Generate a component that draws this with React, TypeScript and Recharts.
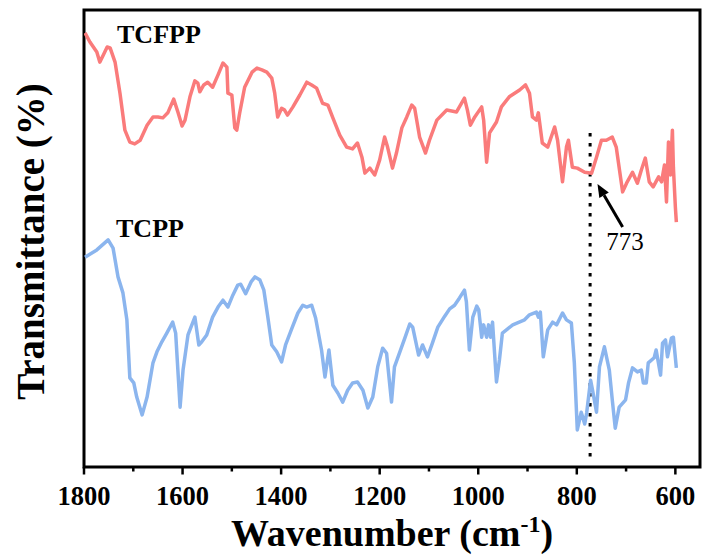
import React from 'react';
import { LineChart, Line, XAxis, YAxis, ReferenceArea, ReferenceLine, ReferenceDot, Label } from 'recharts';

// TCFPP spectrum (wavenumber, cm^-1) and transmittance (arbitrary %, offset)
const tcfppWavenumber = [1798,1788,1774,1768,1761,1753,1747,1737,1727,1717,1707,1697,1686,1672,1660,1650,1640,1630,1618,1609,1601,1595,1585,1575,1569,1565,1557,1549,1539,1528,1518,1510,1508,1500,1494,1490,1484,1474,1459,1449,1439,1429,1419,1413,1407,1399,1393,1387,1376,1362,1348,1338,1328,1316,1305,1295,1281,1267,1255,1245,1236,1230,1220,1210,1200,1190,1184,1174,1166,1155,1145,1135,1129,1119,1107,1099,1084,1064,1044,1028,1022,1016,1007,993,989,983,977,963,953,937,916,904,896,890,882,878,870,859,845,839,829,821,817,809,799,784,770,760,750,740,728,720,707,699,687,677,669,661,653,645,634,628,622,618,614,610,606,604,600,598];
const tcfppT = [95.0,93.0,90.8,88.6,90.1,91.9,91.7,88.6,81.8,73.7,71.1,70.7,71.5,74.8,76.6,76.6,76.4,77.5,80.5,77.5,74.6,75.9,81.0,84.5,84.0,82.1,83.6,84.2,83.1,85.8,88.4,87.5,81.8,81.4,74.2,73.7,77.5,83.1,86.4,87.3,86.9,86.4,85.1,81.8,76.6,78.5,78.1,77.0,78.8,81.4,84.2,83.6,82.9,79.6,79.2,76.4,72.6,70.0,69.6,70.9,67.8,64.3,65.4,63.9,67.2,72.2,70.0,65.4,68.7,74.2,76.6,79.2,78.5,72.2,68.7,71.5,75.9,78.1,77.7,80.7,78.1,74.8,76.6,78.8,75.9,66.7,73.1,75.5,78.8,81.0,82.5,83.6,81.8,76.6,75.9,77.5,70.9,70.0,74.4,71.5,62.4,70.0,71.5,65.6,65.4,64.5,64.3,67.8,71.5,71.5,72.2,70.0,60.2,62.1,64.5,62.1,65.0,67.6,62.4,61.3,63.5,62.4,66.1,58.0,71.1,63.9,73.7,65.6,56.9,53.6];

// TCPP spectrum
const tcppWavenumber = [1798,1774,1751,1741,1731,1721,1713,1707,1699,1693,1682,1672,1660,1652,1642,1632,1620,1614,1605,1599,1589,1575,1567,1561,1551,1539,1528,1518,1508,1498,1488,1482,1472,1461,1453,1443,1435,1427,1419,1409,1399,1391,1378,1366,1356,1348,1338,1330,1318,1311,1303,1295,1285,1275,1265,1255,1245,1234,1224,1214,1204,1194,1186,1176,1170,1159,1149,1139,1133,1121,1113,1103,1093,1082,1068,1058,1048,1038,1028,1024,1018,1011,1003,999,993,989,983,979,975,971,963,957,951,930,906,896,882,878,874,868,859,849,841,829,821,811,805,799,791,784,780,772,768,760,754,744,734,728,722,714,701,695,687,677,669,665,659,655,643,639,630,626,620,616,608,604,598];
const tcppT = [45.9,47.5,49.7,47.9,41.6,38.1,32.2,19.5,18.4,15.3,11.4,15.3,22.8,25.2,27.4,29.3,31.7,29.3,13.1,21.2,28.9,32.8,26.7,27.4,28.9,32.8,35.0,36.5,35.0,37.6,39.8,40.0,37.9,40.5,41.6,40.9,38.7,32.8,26.7,25.2,23.0,26.7,30.4,33.7,35.4,35.0,35.4,32.6,25.6,19.7,25.6,17.9,16.2,14.2,16.8,18.4,18.6,16.8,12.9,15.3,21.9,26.0,24.9,14.2,21.9,25.2,28.2,31.3,30.6,24.5,26.7,24.1,27.1,30.6,33.0,34.6,35.4,37.0,38.7,36.1,25.6,32.8,35.2,34.4,28.4,31.1,28.4,31.1,28.4,31.7,18.6,23.4,29.3,31.1,32.2,33.3,33.9,32.8,33.9,24.1,30.0,31.7,31.1,33.7,32.2,31.5,22.8,8.1,12.0,9.4,11.8,19.0,16.8,12.0,21.9,26.3,21.2,14.7,8.5,13.1,14.7,18.4,21.7,20.8,21.2,18.4,18.4,22.8,23.9,25.6,20.1,27.1,27.8,24.1,28.2,28.4,21.7];

const majorTicks = [1800, 1600, 1400, 1200, 1000, 800, 600];
const minorTicks = [1700, 1500, 1300, 1100, 900, 700];
const allTicks = [...majorTicks, ...minorTicks].sort((a, b) => b - a);
const xDomain = [550, 1800];
const yDomain = [0, 100];
const markerWavenumber = 773;
const markerLabel = '773';
const seriesNames = ['TCFPP', 'TCPP'];

const tcfppData = tcfppWavenumber.map((w, i) => ({ w, t: tcfppT[i] }));
const tcppData = tcppWavenumber.map((w, i) => ({ w, t: tcppT[i] }));

const FONT = "'Times New Roman', 'Liberation Serif', serif";
const RED = '#FA7B7B';
const BLUE = '#8BB5EE';

const XTick = (props: any) => {
  const { x, y, payload } = props;
  const major = majorTicks.includes(payload.value);
  return (
    <g>
      <line x1={x} y1={y} x2={x} y2={y + (major ? 7.5 : 4.5)} stroke="#000" strokeWidth={2.5} />
      {major && (
        <text x={x} y={y + 38} textAnchor="middle" fontFamily={FONT} fontWeight="bold" fontSize={26.5} fill="#000">
          {payload.value}
        </text>
      )}
    </g>
  );
};

const XTitle = (props: any) => {
  const vb = props.viewBox || { x: 84, y: 467, width: 616 };
  return (
    <text x={vb.x + vb.width / 2} y={vb.y + 79} textAnchor="middle" fontFamily={FONT} fontWeight="bold" fontSize={38} fill="#000">
      Wavenumber (cm
      <tspan dy={-14} fontSize={24}>-1</tspan>
      <tspan dy={14}>)</tspan>
    </text>
  );
};

const YTitle = (props: any) => {
  const vb = props.viewBox || { x: 0, y: 10, width: 84, height: 457 };
  const cx = 44;
  const cy = vb.y + vb.height / 2 + 3;
  return (
    <text x={cx} y={cy} transform={`rotate(-90 ${cx} ${cy})`} textAnchor="middle" fontFamily={FONT} fontWeight="bold" fontSize={39} fill="#000">
      Transmittance (%)
    </text>
  );
};

const makeTextShape = (txt: string, size: number, bold: boolean) => (p: any) => (
  <text x={p.cx} y={p.cy} fontFamily={FONT} fontWeight={bold ? 'bold' : 'normal'} fontSize={size} fill="#000">
    {txt}
  </text>
);

const ArrowShape = (p: any) => {
  const { x1, y1, x2, y2 } = p;
  const dx = x2 - x1;
  const dy = y2 - y1;
  const len = Math.sqrt(dx * dx + dy * dy) || 1;
  const ux = dx / len;
  const uy = dy / len;
  const headLen = 13;
  const headW = 5.5;
  const bx = x2 - ux * headLen;
  const by = y2 - uy * headLen;
  const pts = `${x2},${y2} ${bx - uy * headW},${by + ux * headW} ${bx + uy * headW},${by - ux * headW}`;
  return (
    <g>
      <line x1={x1} y1={y1} x2={bx} y2={by} stroke="#000" strokeWidth={3} />
      <polygon points={pts} fill="#000" />
    </g>
  );
};

export default function App() {
  return (
    <div style={{ position: 'absolute', left: 0, top: 0, width: 703, height: 559, background: '#fff' }}>
      <LineChart width={703} height={559} margin={{ top: 10, right: 3, bottom: 0, left: 0 }}>
        <XAxis
          dataKey="w"
          type="number"
          domain={xDomain}
          reversed
          allowDataOverflow
          ticks={allTicks}
          interval={0}
          tickLine={false}
          axisLine={false}
          tickSize={0}
          tickMargin={0}
          tick={<XTick />}
          height={92}
        >
          <Label content={<XTitle />} />
        </XAxis>
        <YAxis
          type="number"
          domain={yDomain}
          allowDataOverflow
          width={84}
          tick={false}
          tickLine={false}
          axisLine={false}
        >
          <Label content={<YTitle />} />
        </YAxis>
        <ReferenceLine
          segment={[{ x: markerWavenumber, y: 73.1 }, { x: markerWavenumber, y: 2 }]}
          stroke="#000"
          strokeWidth={3}
          strokeDasharray="3.5 6.5"
        />
        <Line data={tcppData} dataKey="t" stroke={BLUE} strokeWidth={3.5} strokeLinejoin="round" dot={false} isAnimationActive={false} type="linear" />
        <Line data={tcfppData} dataKey="t" stroke={RED} strokeWidth={3.5} strokeLinejoin="round" dot={false} isAnimationActive={false} type="linear" />
        <ReferenceLine segment={[{ x: 707, y: 52.5 }, { x: 758, y: 61.9 }]} shape={ArrowShape} />
        <ReferenceDot x={1733} y={92.8} r={1} shape={makeTextShape(seriesNames[0], 26, true)} />
        <ReferenceDot x={1735} y={50.3} r={1} shape={makeTextShape(seriesNames[1], 26, true)} />
        <ReferenceDot x={740} y={47.5} r={1} shape={makeTextShape(markerLabel, 25, false)} />
        <ReferenceArea x1={1800} x2={550} y1={0} y2={100} fill="none" stroke="#000" strokeWidth={3} ifOverflow="visible" />
      </LineChart>
    </div>
  );
}
